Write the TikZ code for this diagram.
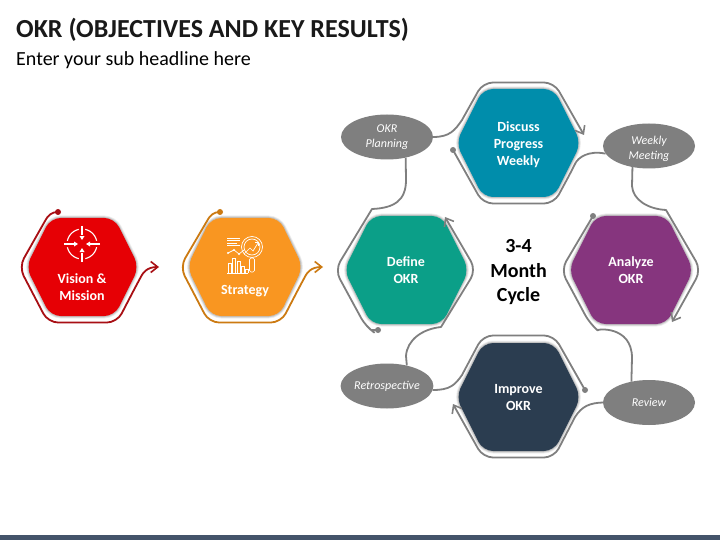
\documentclass[tikz,border=0pt]{standalone}
\usepackage{fontspec}
\setmainfont{Carlito}
\usetikzlibrary{shapes.geometric,arrows.meta}
\definecolor{cred}{HTML}{E60005}
\definecolor{corange}{HTML}{F99621}
\definecolor{cteal}{HTML}{0B9F88}
\definecolor{cpurple}{HTML}{86357E}
\definecolor{cblue}{HTML}{008DAB}
\definecolor{cnavy}{HTML}{2B3D50}
\definecolor{cbar}{HTML}{44546A}
\definecolor{lred}{HTML}{A80F14}
\definecolor{lorange}{HTML}{CC7A12}
\definecolor{lgray}{HTML}{7F7F7F}
\tikzset{
  title/.style={anchor=base west,inner sep=0,font=\bfseries\fontsize{26}{30}\selectfont,text=black!90},
  subtitle/.style={anchor=base west,inner sep=0,font=\fontsize{20}{24}\selectfont,text=black},
  hexlabel/.style={align=center,inner sep=0,text=white,font=\bfseries\fontsize{14}{17}\selectfont},
  cyclelabel/.style={align=center,inner sep=0,text=black,font=\bfseries\fontsize{20}{24.5}\selectfont},
  oval/.style={ellipse,fill=lgray,inner sep=0,minimum width=92pt,minimum height=45pt,align=center,text=white,font=\itshape\fontsize{12}{15}\selectfont},
  dotmark/.style={circle,inner sep=0,minimum size=6pt,fill=#1},
  conn/.style={line width=1.8pt,draw=#1,line join=round},
  tip/.style={-{Straight Barb[length=7pt,width=11pt,line width=1.6pt]}},
  icon/.style={draw=white,line width=1.1pt},
  iconthin/.style={draw=white,line width=0.7pt}
}
\newcommand{\hexa}[7]{% cx cy color hw hh th
  \begin{scope}[shift={(#1,#2)}]
    \foreach \wd/\op in {5/0.06,3.5/0.08,2/0.12}
      \draw[black,opacity=\op,line width=\wd pt,rounded corners=10pt]
        (-#4,0) -- (-#6,-#5) -- (#6,-#5) -- (#4,0) -- (#6,#5) -- (-#6,#5) -- cycle;
    \fill[#3,rounded corners=10pt]
        (-#4,0) -- (-#6,-#5) -- (#6,-#5) -- (#4,0) -- (#6,#5) -- (-#6,#5) -- cycle;
  \end{scope}}
\begin{document}
\begin{tikzpicture}[x=1pt,y=-1pt]
\useasboundingbox (0,0) rectangle (720,540);
\fill[white] (0,0) rectangle (720,540);
\fill[cbar] (0,535) rectangle (720,540);
\node[title] (ttl) at (16,38) {OKR (OBJECTIVES AND KEY RESULTS)};
\node[subtitle] (sub) at (16,66) {Enter your sub headline here};

% hexagons
\hexa{82.5}{267}{cred}{56.5}{49}{32}{}
\hexa{245}{267}{corange}{58}{49}{34}{}
\hexa{406.5}{270}{cteal}{62.5}{54}{35.5}{}
\hexa{631}{270}{cpurple}{62.5}{54}{35.5}{}
\hexa{518.5}{143}{cblue}{62.5}{54}{35.5}{}
\hexa{518.5}{397}{cnavy}{62.5}{54}{35.5}{}

% labels
\node[hexlabel] (vision) at (82,287) {Vision \&\\Mission};
\node[hexlabel] (strategy) at (245,291) {Strategy};
\node[hexlabel] (define) at (406,270) {Define\\OKR};
\node[hexlabel] (analyze) at (631,270) {Analyze\\OKR};
\node[hexlabel] (discuss) at (518.5,145) {Discuss\\Progress\\Weekly};
\node[hexlabel] (improve) at (518.5,398) {Improve\\OKR};
\node[cyclelabel] (cycle) at (518.5,272.5) {3-4\\Month\\Cycle};

% ovals
\node[oval] (planning) at (387,137) {OKR\\Planning};
\node[oval] (weekly) at (649,146) {\rule{0pt}{14pt}Weekly\\Meeting};
\node[oval] (retro) at (387,386) {Retrospective};
\node[oval] (review) at (649,402.5) {Review};

% dots and free ends
\node[dotmark=lred] (d1) at (58,212) {};
\node[dotmark=lorange] (d2) at (220,212) {};
\node[dotmark=lgray] (d3) at (378,330) {};
\node[dotmark=lgray] (d4) at (593,216) {};
\node[dotmark=lgray] (d5) at (453,150) {};
\node[dotmark=lgray] (d6) at (585,390) {};
\coordinate (t1) at (159,267);
\coordinate (t2) at (323,267);
\coordinate (t3) at (445,217);
\coordinate (t4) at (672,322);
\coordinate (t5) at (584,135);
\coordinate (t6) at (453,404);

% left outlines
\draw[conn=lred,tip] (d1.center) .. controls (52,212) and (48,215) .. (45,221)
  [rounded corners=10pt] -- (19,267) -- (48,322.5) -- (117,322.5) -- (137,284)
  [sharp corners] .. controls (143,273) and (147,267) .. (t1);
\draw[conn=lorange,tip] (d2.center) .. controls (214,212) and (210,215) .. (207,221)
  [rounded corners=10pt] -- (180,267) -- (209,322.5) -- (281,322.5) -- (301,284)
  [sharp corners] .. controls (307,273) and (311,267) .. (t2);

% cycle outlines
\draw[conn=lgray] (planning.-48) -- (406,180) .. controls (406,200) and (395,208) .. (372,209)
  [rounded corners=10pt] -- (335,270) -- (366,327) [sharp corners] .. controls (369,329) and (373,330) .. (d3.center);
\draw[conn=lgray,tip] (retro.46) -- (406,356) .. controls (407,340) and (422,329) .. (441,327)
  [rounded corners=10pt] -- (476,270) -- (t3);
\draw[conn=lgray,rounded corners=10pt] (d4.center) -- (561,270) -- (590,324) [sharp corners] .. controls (596,329) and (632,325) .. (632,358) -- (review.130);
\draw[conn=lgray,tip] (weekly.232) -- (632,186) .. controls (633,200) and (648,209) .. (666,210)
  [rounded corners=10pt] -- (701,270) -- (t4);
\draw[conn=lgray,tip] (planning.east) .. controls (450,137) and (455,130) .. (462,120)
  [rounded corners=10pt] -- (483,82.5) -- (554,82.5) -- (t5);
\draw[conn=lgray,rounded corners=10pt] (d5.center) -- (483,203.5) -- (554,203.5) -- (571,172)
  [sharp corners] .. controls (578,158) and (588,150) .. (weekly.190);
\draw[conn=lgray] (retro.-5) .. controls (450,390) and (455,385) .. (462,375)
  [rounded corners=10pt] -- (483,335.5) -- (554,335.5) -- (d6.center);
\draw[conn=lgray,tip] (review.west) .. controls (590,403) and (582,406) .. (575,417)
  [rounded corners=10pt] -- (554,457.5) -- (483,457.5) -- (t6);

% target icon
\node[circle,inner sep=0,minimum size=30pt,draw=white,line width=1.1pt,dash pattern=on 17pt off 6.55pt,dash phase=20.28pt] (target) at (82,244) {};
\begin{scope}[shift={(82,244)}]
  \draw[icon] (-18,0) -- (-8,0);
  \draw[icon] (18,0) -- (8,0);
  \draw[icon] (0,-18) -- (0,-9);
  \draw[icon] (0,18) -- (0,9);
  \fill[white] (-4,0) -- (-8,-2.5) -- (-8,2.5) -- cycle;
  \fill[white] (4,0) -- (8,-2.5) -- (8,2.5) -- cycle;
  \fill[white] (0,-4) -- (-2.5,-8) -- (2.5,-8) -- cycle;
  \fill[white] (0,4) -- (-2.5,8) -- (2.5,8) -- cycle;
\end{scope}

% strategy icon
\draw[iconthin] (252,247) circle[radius=10.5pt];
\draw[iconthin] (252,247) circle[radius=8pt];
\draw[iconthin] (244,254) -- (250,248) -- (253,251) -- (258,243);
\draw[iconthin] (255,242.5) -- (258.5,242.5) -- (258.5,246);
\draw[iconthin,rounded corners=1.5pt] (249.5,258) -- (249.5,272) -- (254.5,272) -- (254.5,258) -- cycle;
\draw[icon,line width=0.9pt] (227,238) -- (240,238);
\draw[icon,line width=0.9pt] (227,240.5) -- (240,240.5);
\draw[icon,line width=0.9pt] (227,243) -- (237,243);
\draw[icon,line width=0.9pt] (227,245.5) -- (240,245.5);
\draw[iconthin] (228,253) -- (234,250) -- (239,254) -- (244,250);
\fill[white] (234,250) circle[radius=1.2pt] (228,253) circle[radius=1.2pt] (239,254) circle[radius=1.2pt];
\draw[iconthin] (227,273) -- (248,273);
\foreach \x/\t in {228/263,232.5/258,237/261,241.5/266,245/269}
  \draw[iconthin] (\x,273) -- (\x,\t) -- (\x+3,\t) -- (\x+3,273);
\end{tikzpicture}
\end{document}
